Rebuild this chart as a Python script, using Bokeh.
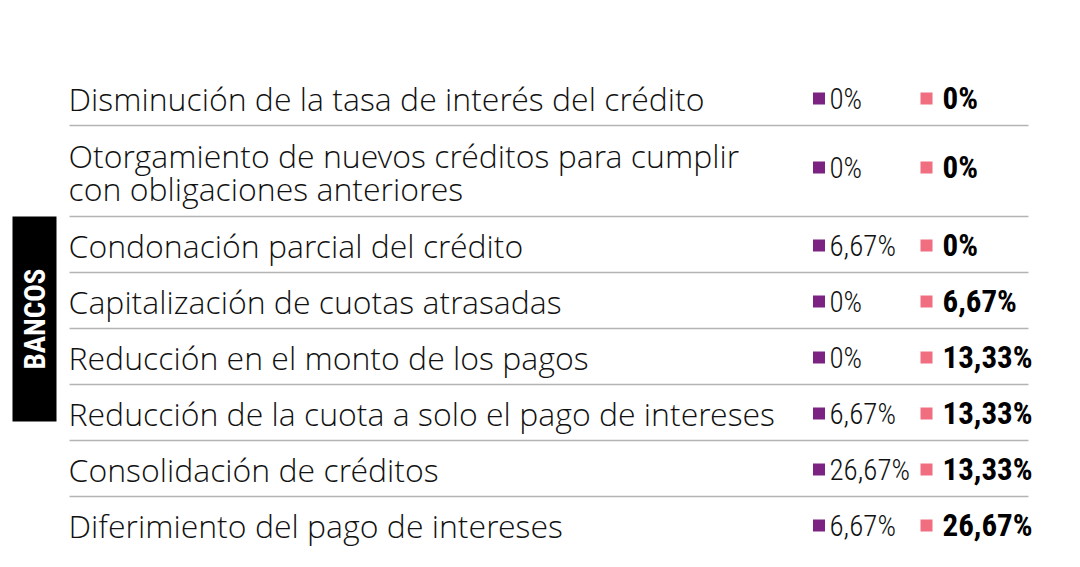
import math
from bokeh.plotting import figure
from bokeh.models import Range1d, ColumnDataSource
from bokeh.core.properties import value
from bokeh.embed import file_html
from bokeh.resources import INLINE

# ---------------- data ----------------
categories = [
    "Disminución de la tasa de interés del crédito",
    "Otorgamiento de nuevos créditos para cumplir\ncon obligaciones anteriores",
    "Condonación parcial del crédito",
    "Capitalización de cuotas atrasadas",
    "Reducción en el monto de los pagos",
    "Reducción de la cuota a solo el pago de intereses",
    "Consolidación de créditos",
    "Diferimiento del pago de intereses",
]
serie_1 = [0, 0, 6.67, 0, 0, 6.67, 26.67, 6.67]
serie_2 = [0, 0, 0, 6.67, 13.33, 13.33, 13.33, 26.67]
group_label = "BANCOS"

# ---------------- styles ----------------
PURPLE = "#7b2282"
PINK = "#f06e80"
RULE = "#b4b4b4"
LABEL_FONT = value("'Open Sans Light', 'Open Sans', sans-serif")
LIGHT_NARROW = value("'Roboto Condensed Light', 'Roboto Condensed', 'DejaVu Sans Condensed', sans-serif")
BOLD_NARROW = value("'Roboto Condensed', 'DejaVu Sans Condensed', sans-serif")


def fmt(v):
    if v == 0:
        return "0%"
    return f"{v:.2f}".replace(".", ",") + "%"


# ---------------- layout (pixel space) ----------------
W, H = 1064, 551
first_rule = 125
single_h = 56
extra_line_h = 35

bottoms, centers, vcenters = [], [], []
b = None
for i, c in enumerate(categories):
    n = c.count("\n") + 1
    h = single_h + (n - 1) * extra_line_h
    b = first_rule if i == 0 else b + h
    bottoms.append(b)
    centers.append(b - 27 - (n - 1) * extra_line_h / 2)
    vcenters.append(b - 27 - (n - 1) * 22)

src = ColumnDataSource(dict(
    label=categories,
    y=centers,
    vy=vcenters,
    rule=bottoms,
    t1=[fmt(v) for v in serie_1],
    t2=[fmt(v) for v in serie_2],
))

p = figure(width=W, height=H, output_backend="svg", toolbar_location=None,
           x_range=Range1d(0, W), y_range=Range1d(H, 0),
           x_axis_location=None, y_axis_location=None, min_border=0)
p.grid.visible = False
p.outline_line_color = None
p.background_fill_color = "white"
p.border_fill_color = "white"

# rules under each row
p.segment(x0=69, x1=1028, y0="rule", y1="rule", source=src,
          line_color=RULE, line_width=1.5)

# row labels
p.text(x=68, y="y", text="label", source=src, text_font=LABEL_FONT,
       text_font_size="32px", text_align="left", text_baseline="middle",
       text_color="#111111", text_line_height=0.78)

# series 1 (purple) markers and values
p.rect(x=818.5, y="vy", width=12, height=12, source=src,
       fill_color=PURPLE, line_color=None)
p.text(x=829, y="vy", text="t1", source=src, text_font=LIGHT_NARROW,
       text_font_size="29px", text_align="left", text_baseline="middle",
       text_color="#111111")

# series 2 (pink) markers and values
p.rect(x=926, y="vy", width=12, height=12, source=src,
       fill_color=PINK, line_color=None)
p.text(x=942, y="vy", text="t2", source=src, text_font=BOLD_NARROW,
       text_font_size="31px", text_font_style="bold", text_align="left",
       text_baseline="middle", text_color="#000000")

# group label box
p.quad(left=[12], right=[56], top=[216], bottom=[421],
       fill_color="#000000", line_color=None)
p.text(x=[34], y=[318.5], text=[group_label], angle=math.pi / 2,
       text_font=BOLD_NARROW, text_font_size="29px", text_font_style="bold",
       text_align="center", text_baseline="middle", text_color="white")

open("out.html", "w").write(file_html(p, INLINE))
